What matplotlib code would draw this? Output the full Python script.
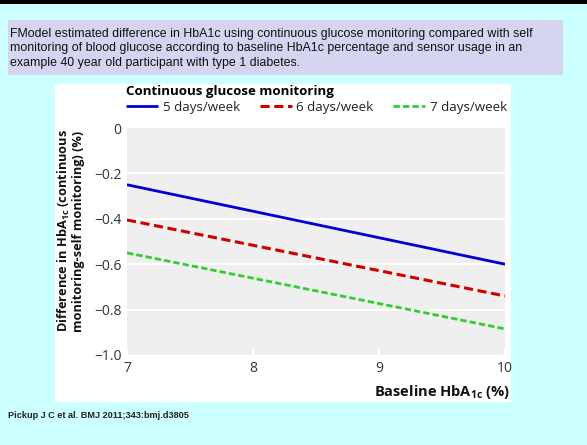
import matplotlib
matplotlib.use("Agg")
import matplotlib.pyplot as plt
from matplotlib.patches import Rectangle

# data
baseline = [7, 10]
usage_labels = ["5 days/week", "6 days/week", "7 days/week"]
diff_5 = [-0.25, -0.60]
diff_6 = [-0.405, -0.74]
diff_7 = [-0.55, -0.885]
xtick_vals = [7, 8, 9, 10]
ytick_vals = [0, -0.2, -0.4, -0.6, -0.8, -1.0]
ytick_labels = ["0", "\u22120.2", "\u22120.4", "\u22120.6", "\u22120.8", "\u22121.0"]

caption = ("FModel estimated difference in HbA1c using continuous glucose monitoring compared with self\n"
           "monitoring of blood glucose according to baseline HbA1c percentage and sensor usage in an\n"
           "example 40 year old participant with type 1 diabetes.")
footer = "Pickup J C et al. BMJ 2011;343:bmj.d3805"

plt.rcParams['font.family'] = ['Open Sans', 'DejaVu Sans']
plt.rcParams['mathtext.fontset'] = 'custom'
plt.rcParams['mathtext.rm'] = 'Open Sans'
plt.rcParams['mathtext.bf'] = 'Open Sans:bold'

W, H = 587, 445
fig = plt.figure(figsize=(W / 100, H / 100), dpi=100, facecolor='#ccffff')

def fx(px):
    return px / W

def fy(py):
    return 1 - py / H

def add_rect(x0, y0, x1, y1, color):
    # pixel box (top-left origin) drawn behind the axes
    r = Rectangle((fx(x0), fy(y1)), fx(x1 - x0), (y1 - y0) / H, transform=fig.transFigure,
                  facecolor=color, edgecolor='none', zorder=-5)
    fig.patches.append(r)

add_rect(0, 0, W, 4, 'black')
add_rect(8, 20, 563, 75, '#d5d5f2')
add_rect(55, 84, 511, 402, 'white')

fig.text(fx(10), fy(48.5), caption, family='Liberation Sans', fontsize=8.95,
         va='center', ha='left', color='#111111', linespacing=1.25)
fig.text(fx(8), fy(416), footer, family='Liberation Sans', fontsize=6.6,
         fontweight='bold', va='center', ha='left', color='#222222')

ax = fig.add_axes([fx(127), fy(355), fx(505 - 127), (355 - 128) / H])
ax.set_facecolor('#efefef')
for s in ax.spines.values():
    s.set_visible(False)

ax.plot(baseline, diff_5, color='#0000d0', lw=2.0, solid_capstyle='butt', label=usage_labels[0])
ax.plot(baseline, diff_6, color='#cc0000', lw=2.2, linestyle=(0, (3.0, 1.5)), label=usage_labels[1])
ax.plot(baseline, diff_7, color='#33cc33', lw=2.0, linestyle=(0, (2.3, 1.1)), label=usage_labels[2])

ax.set_xlim(7, 10)
ax.set_ylim(-1.0, 0)
ax.set_xticks(xtick_vals)
ax.set_yticks(ytick_vals)
ax.set_yticklabels(ytick_labels)
for y in ytick_vals[1:-1]:
    ax.axhline(y, color='white', lw=1.5, zorder=1)
ax.tick_params(axis='x', direction='in', color='white', length=4, width=1.5,
               labelsize=10, labelcolor='#333333', pad=4)
ax.tick_params(axis='y', length=0, labelsize=10, labelcolor='#333333', pad=4)

ax.set_xlabel("Baseline HbA$_{\\mathbf{1c}}$ (%)", fontweight='bold', fontsize=10.5,
              color='#111111')
ax.xaxis.set_label_coords(1.013, -0.163)
ax.xaxis.label.set_ha('right')
ax.xaxis.label.set_va('center')

fig.text(fx(70.5), fy(231), "Difference in HbA$_{\\mathbf{1c}}$ (continuous\nmonitoring-self monitoring) (%)",
         rotation=90, fontweight='bold', fontsize=9.2, ha='center', va='center',
         color='#111111', linespacing=1.0)

leg = ax.legend(loc='lower left', bbox_to_anchor=(-0.005, 1.057), ncol=3, frameon=False,
                title="Continuous glucose monitoring", fontsize=9.6,
                borderaxespad=0, borderpad=0.1, handlelength=2.4, handletextpad=0.35,
                columnspacing=1.45, labelspacing=0.2)
leg.get_title().set_fontweight('bold')
leg.get_title().set_fontsize(9.5)
leg._legend_box.align = 'left'
for t in leg.get_texts():
    t.set_color('#222222')

fig.savefig("out.png", dpi=100, facecolor=fig.get_facecolor())
